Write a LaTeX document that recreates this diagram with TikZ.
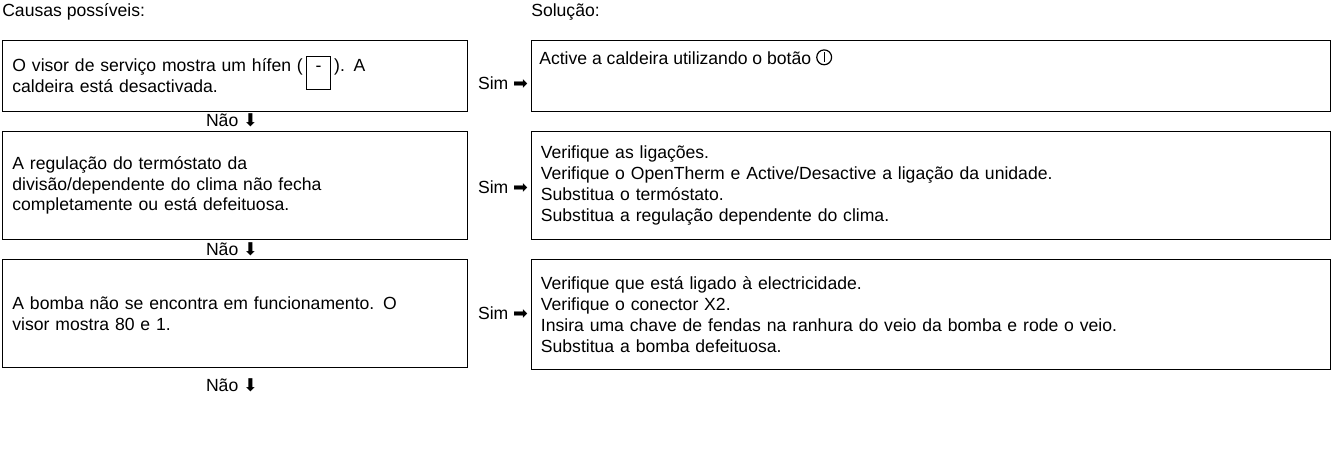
\documentclass[tikz,border=0pt]{standalone}
\usepackage{fontspec}
\setmainfont{Liberation Sans}
\newfontfamily\symfont{DejaVu Sans}
\usetikzlibrary{positioning}
\newcommand{\pwr}{\tikz[baseline=-0.1ex,line width=0.9pt]{\draw (0,0.62ex) circle (0.8ex); \draw (0,0.1ex) -- (0,1.15ex);}}
\newcommand{\hyph}{\smash{\tikz[baseline=(h.base)]{\node[draw,line width=0.6pt,inner sep=2pt,minimum width=1.4em,minimum height=1.9em,text depth=.45em] (h) {-};}}}
\begin{document}
\begin{tikzpicture}[x=0.75pt,y=-0.75pt,
  font=\fontsize{13.2}{15.6}\selectfont,
  cause/.style={draw,rectangle,line width=0.6pt,anchor=north west,align=left,
    text width=445pt*0.75,minimum width=465pt*0.75,inner xsep=8pt*0.75},
  fix/.style={draw,rectangle,line width=0.6pt,anchor=north west,align=left,
    text width=780pt*0.75,minimum width=799pt*0.75,inner xsep=8pt*0.75},
  head/.style={anchor=west,inner sep=0pt},
  yes/.style={anchor=center,inner sep=0pt},
  no/.style={anchor=center,inner sep=0pt}]
  \useasboundingbox (0,0) rectangle (1340,462);
  % Headings
  \node[head] (hc) at (2,12) {Causas possíveis:};
  \node[head] (hs) at (531,12) {Solução:};
  % Row 1
  \node[cause,minimum height=71pt*0.75] (c1) at (2,40)
    {O visor de serviço mostra um hífen (\,\hyph\,). A\\caldeira está desactivada.};
  \node[fix,minimum height=71pt*0.75] (s1) at (531,40) {};
  \node[anchor=north west,inner xsep=8pt*0.75,inner ysep=9pt*0.75] (t1) at (s1.north west)
    {Active a caldeira utilizando o botão \pwr};
  \node[yes] (y1) at (503,83) {Sim {\symfont ➡}};
  \node[no] (n1) at (232,120) {Não {\symfont ⬇}};
  % Row 2
  \node[cause,minimum height=108pt*0.75] (c2) at (2,131)
    {A regulação do termóstato da\\divisão/dependente do clima não fecha\\completamente ou está defeituosa.};
  \node[fix,minimum height=108pt*0.75] (s2) at (531,131)
    {Verifique as ligações.\\
     Verifique o OpenTherm e Active/Desactive a ligação da unidade.\\
     Substitua o termóstato.\\
     Substitua a regulação dependente do clima.};
  \node[yes] (y2) at (503,187) {Sim {\symfont ➡}};
  \node[no] (n2) at (232,249) {Não {\symfont ⬇}};
  % Row 3
  \node[cause,minimum height=108pt*0.75] (c3) at (2,259)
    {A bomba não se encontra em funcionamento. O\\visor mostra 80 e 1.};
  \node[fix,minimum height=110pt*0.75] (s3) at (531,259)
    {Verifique que está ligado à electricidade.\\
     Verifique o conector X2.\\
     Insira uma chave de fendas na ranhura do veio da bomba e rode o veio.\\
     Substitua a bomba defeituosa.};
  \node[yes] (y3) at (503,313) {Sim {\symfont ➡}};
  \node[no] (n3) at (232,385) {Não {\symfont ⬇}};
\end{tikzpicture}
\end{document}
